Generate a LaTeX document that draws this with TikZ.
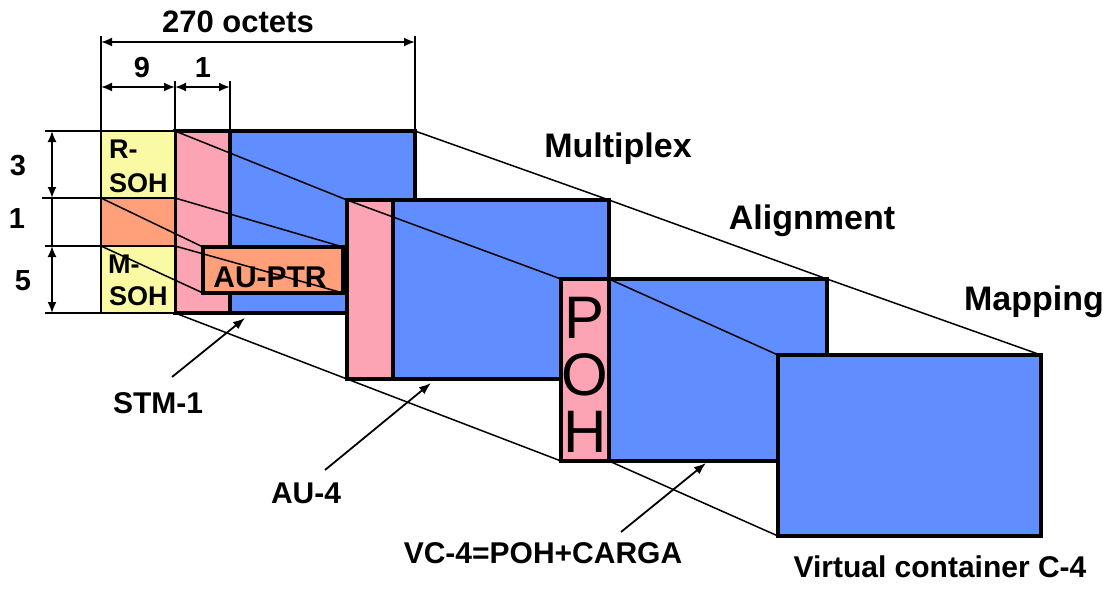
\documentclass[tikz,border=0pt]{standalone}
\usepackage{fontspec}
\setmainfont{Liberation Sans}
\usetikzlibrary{arrows.meta}
\definecolor{sohyellow}{RGB}{250,250,165}
\definecolor{ovhpink}{RGB}{252,164,180}
\definecolor{ptrorange}{RGB}{255,160,122}
\definecolor{payblue}{RGB}{96,141,255}
\begin{document}
\begin{tikzpicture}[x=1pt,y=-1pt,
  box/.style={draw=black, line width=3.5pt, rectangle, inner sep=0pt, outer sep=0pt, anchor=north west},
  sohbox/.style={box, line width=2.5pt, fill=sohyellow},
  conn/.style={line width=1.5pt},
  dimline/.style={line width=1.8pt},
  dimarrow/.style={dimline, {Latex[length=11pt,width=9pt]}-{Latex[length=11pt,width=9pt]}},
  ptrarrow/.style={line width=1.8pt, -{Latex[length=12pt,width=9pt]}},
  lbl/.style={font=\fontsize{30}{36}\selectfont\bfseries, inner sep=0pt, anchor=base},
  title/.style={font=\fontsize{34}{40}\selectfont\bfseries, inner sep=0pt, anchor=base},
  num/.style={font=\fontsize{29}{34}\selectfont\bfseries, inner sep=0pt, anchor=base},
  sohtxt/.style={font=\fontsize{27}{32}\selectfont\bfseries, inner sep=0pt, anchor=base west},
  pohtxt/.style={font=\fontsize{60}{60}\selectfont, inner sep=0pt, anchor=base}
]
\useasboundingbox (0,0) rectangle (1113,590);

% STM-1 frame
\node[box, fill=ovhpink, minimum width=55pt, minimum height=182pt] (stmpink) at (175,131) {};
\node[box, fill=payblue, minimum width=185pt, minimum height=182pt] (stmblue) at (230,131) {};
\node[sohbox, minimum width=74pt, minimum height=67pt] (rsoh) at (101,131) {};
\node[sohbox, fill=ptrorange, minimum width=74pt, minimum height=48pt] (stmptr) at (101,198) {};
\node[sohbox, minimum width=74pt, minimum height=67pt] (msoh) at (101,246) {};
\node[sohtxt] (rsohA) at (109,158) {R-};
\node[sohtxt] (rsohB) at (109,192) {SOH};
\node[sohtxt] (msohA) at (108,273) {M-};
\node[sohtxt] (msohB) at (109,305) {SOH};

% AU pointer
\node[box, fill=ptrorange, minimum width=140pt, minimum height=46pt] (auptr) at (203,247) {};
\node[lbl] (auptrtxt) at (270,287) {AU-PTR};

% AU-4
\node[box, fill=ovhpink, minimum width=46pt, minimum height=179pt] (au4pink) at (347,200) {};
\node[box, fill=payblue, minimum width=216pt, minimum height=179pt] (au4blue) at (393,200) {};

% VC-4
\node[box, fill=ovhpink, minimum width=48pt, minimum height=182pt] (poh) at (561,279) {};
\node[box, fill=payblue, minimum width=218pt, minimum height=182pt] (vc4blue) at (609,279) {};
\node[pohtxt] (pohP) at (585,338) {P};
\node[pohtxt] (pohO) at (585,395) {O};
\node[pohtxt] (pohH) at (585,452) {H};

% C-4
\node[box, fill=payblue, minimum width=263pt, minimum height=181pt] (c4) at (778,355) {};

% projection lines
\draw[conn] (stmpink.north west) -- (au4pink.north west) -- (poh.north west);
\draw[conn] (stmpink.south west) -- (au4pink.south west) -- (poh.south west);
\draw[conn] (stmblue.north east) -- (au4blue.north east) -- (vc4blue.north east) -- (c4.north east);
\draw[conn] (vc4blue.north west) -- (c4.north west);
\draw[conn] (vc4blue.south west) -- (c4.south west);
\draw[conn] (stmptr.north west) -- (auptr.north west);
\draw[conn] (stmptr.south west) -- (auptr.south west);
\draw[conn] (stmptr.north east) -- (auptr.north east);
\draw[conn] (stmptr.south east) -- (auptr.south east);

% dimension lines (top)
\coordinate (xa) at (101,36);
\coordinate (xb) at (415,36);
\coordinate (xc) at (175,81);
\coordinate (xd) at (230,81);
\draw[dimline] (rsoh.north west) -- (xa);
\draw[dimline] (stmblue.north east) -- (xb);
\draw[dimline] (stmpink.north west) -- (xc);
\draw[dimline] (stmblue.north west) -- (xd);
\coordinate (da1) at (101,42);
\coordinate (da2) at (415,42);
\coordinate (db1) at (101,87);
\coordinate (db2) at (175,87);
\coordinate (db3) at (230,87);
\draw[dimarrow] (da1) -- (da2);
\draw[dimarrow] (db1) -- (db2);
\draw[dimarrow] (db2) -- (db3);
\node[lbl, font=\fontsize{31}{36}\selectfont\bfseries] (octets) at (238,32) {270 octets};
\node[num] (nine) at (142,77) {9};
\node[num] (oneA) at (203,77) {1};

% dimension lines (left)
\coordinate (ya) at (45,131);
\coordinate (yb) at (42,198);
\coordinate (yc) at (45,246);
\coordinate (yd) at (45,313);
\draw[dimline] (rsoh.north west) -- (ya);
\draw[dimline] (stmptr.north west) -- (yb);
\draw[dimline] (msoh.north west) -- (yc);
\draw[dimline] (msoh.south west) -- (yd);
\coordinate (va) at (52,131);
\coordinate (vb) at (52,198);
\coordinate (vc) at (52,246);
\coordinate (vd) at (52,313);
\draw[dimarrow] (va) -- (vb);
\draw[dimline] (vb) -- (vc);
\draw[dimarrow] (vc) -- (vd);
\node[num] (three) at (18,175) {3};
\node[num] (oneB) at (17,228) {1};
\node[num] (five) at (23,290) {5};

% titles
\node[title] (multiplex) at (618,157) {Multiplex};
\node[title] (alignment) at (812,229) {Alignment};
\node[title] (mapping) at (1034,310) {Mapping};

% labels with arrows
\node[lbl] (stmlbl) at (158,413) {STM-1};
\node[lbl] (au4lbl) at (306,503) {AU-4};
\node[lbl] (vc4lbl) at (543,563) {VC-4=POH+CARGA};
\node[lbl] (c4lbl) at (940,577) {Virtual container C-4};
\coordinate (sa) at (172,377);
\coordinate (sb) at (245,318);
\coordinate (aa) at (325,470);
\coordinate (ab) at (431,383);
\coordinate (ca) at (621,532);
\coordinate (cb) at (706,463);
\draw[ptrarrow] (sa) -- (sb);
\draw[ptrarrow] (aa) -- (ab);
\draw[ptrarrow] (ca) -- (cb);
\end{tikzpicture}
\end{document}
